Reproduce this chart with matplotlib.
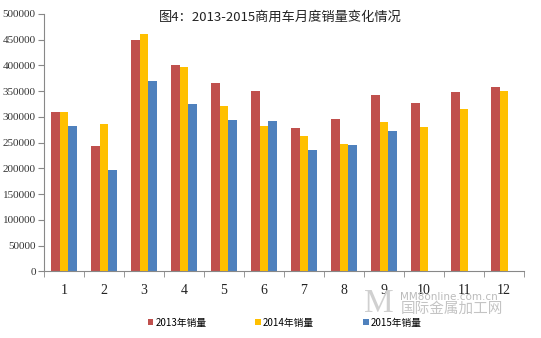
import numpy as np
import matplotlib
matplotlib.use("Agg")
import matplotlib.pyplot as plt

plt.rcParams['font.family'] = ['Noto Sans CJK SC', 'DejaVu Sans']

# monthly sales of commercial vehicles
months = ["1", "2", "3", "4", "5", "6", "7", "8", "9", "10", "11", "12"]
sales_2013 = [309000, 243000, 450000, 400000, 365000, 351000, 278000, 296000, 343000, 327000, 348000, 358000]
sales_2014 = [310000, 286000, 460000, 396000, 322000, 283000, 262000, 248000, 290000, 280000, 316000, 350000]
sales_2015 = [282000, 197000, 370000, 325000, 294000, 292000, 235000, 246000, 273000]
series_names = ["2013年销量", "2014年销量", "2015年销量"]
colors = ["#C0504D", "#FFC000", "#4F81BD"]

fig = plt.figure(figsize=(5.41, 3.38), dpi=100)
ax = fig.add_axes([0.0813, 0.197, 0.8873, 0.762])

x = np.arange(len(months))
w = 0.22
ax.bar(x - w, sales_2013, w, color=colors[0], label=series_names[0])
ax.bar(x, sales_2014, w, color=colors[1], label=series_names[1])
ax.bar(np.arange(len(sales_2015)) + w, sales_2015, w, color=colors[2], label=series_names[2])

ax.set_xlim(-0.5, 11.5)
ax.set_ylim(0, 500000)
ax.set_yticks(np.arange(0, 500001, 50000))
ax.set_yticklabels([str(v) for v in range(0, 500001, 50000)],
                   family="Liberation Serif", fontsize=8, color="#333333")
ax.set_xticks(x)
ax.set_xticklabels(months, family="Liberation Serif", fontsize=10, color="#222222")
ax.tick_params(axis="x", length=0, pad=9)
ax.set_xticks(np.arange(-0.5, 12, 1), minor=True)
ax.tick_params(axis="x", which="minor", length=4, direction="out", color="#888888")
ax.tick_params(axis="y", length=4, direction="out", color="#888888", pad=2)

for s in ["top", "right"]:
    ax.spines[s].set_visible(False)
for s in ["left", "bottom"]:
    ax.spines[s].set_color("#888888")
    ax.spines[s].set_linewidth(0.8)

fig.text(0.518, 0.948, "图4：2013-2015商用车月度销量变化情况", ha="center", va="center",
         fontsize=9.5, color="#222222")

fig.legend(loc="center", bbox_to_anchor=(0.526, 0.045), ncol=3, frameon=False,
           fontsize=7, handlelength=0.6, handleheight=0.6, handletextpad=0.2,
           columnspacing=5.0)

# watermark
fig.text(0.74, 1 - 297 / 338, "MM8online.com.cn", fontsize=7.5, color="#bbbbbb",
         family="DejaVu Sans", va="center")
fig.text(0.74, 1 - 309 / 338, "国际金属加工网", fontsize=10.5, color="#c4c4c4", va="center")
fig.text(0.728, 1 - 304 / 338, "M", fontsize=24, color="#d0d0d0", family="Liberation Serif",
         ha="right", va="center")

fig.savefig("out.png", dpi=100)
